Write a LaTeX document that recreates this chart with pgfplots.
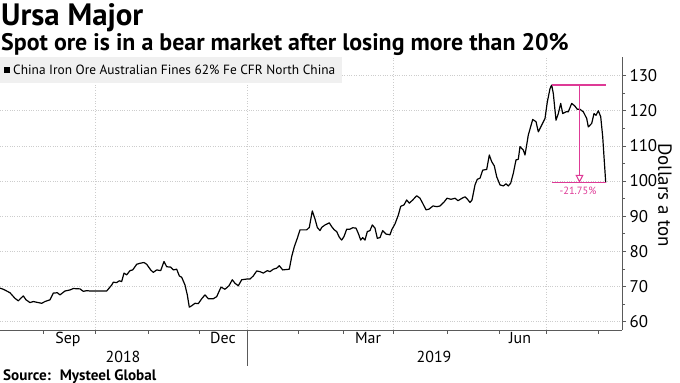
\documentclass[border=0pt]{standalone}
\usepackage{pgfplots}
\pgfplotsset{compat=1.18}
\usepackage{pgfplotstable}
\usepackage{fontspec}
\setmainfont{PT Sans}
\definecolor{mag}{RGB}{222,58,150}
\definecolor{gridc}{RGB}{205,205,205}
\definecolor{legbg}{RGB}{240,240,240}
\definecolor{axc}{RGB}{90,90,90}

% x = horizontal position (chart pixels; Sep 1 2018 = 43, Aug 1 2019 = 598), y = USD/ton
\pgfplotstableread{
x y
0 69.5
3.3 69.2
10 68.2
15 66.6
18.3 65.9
20.7 66.6
23.3 67.3
26 66.2
30 65.4
33.3 65.7
38.3 65.4
41.7 65.2
45 65.7
50 66.2
53.3 68.1
57.3 68.2
60 67.6
65 68.7
70 69.0
73.3 69.4
80 69.3
83.3 68.6
86.7 68.8
90 68.7
106.7 68.7
111.7 70.4
113.3 71.2
116.7 71.1
119.3 71.6
121.7 71.4
124 73.8
126.7 73.3
130 74.5
132.7 74.7
136.7 76.3
140 76.6
144 76.8
146.7 76.3
150.7 74.7
153.3 74.0
156.7 74.7
160.7 74.5
164 77.1
166.7 75.6
170.7 75.5
173.3 74.7
176.7 74.9
179.3 73.0
181.7 72.6
185 70.4
187.3 67.6
189.3 64.1
191.7 64.5
195 65.2
198.3 65.1
201.7 66.5
205 67.6
208.3 66.5
213.3 66.5
216.7 67.1
221 69.8
225 69.2
229 70.2
232.3 71.9
235 70.9
238.3 70.2
241.7 71.9
246.7 72.1
250 72.1
253.3 73.0
256.7 74.4
260 74.2
263.3 73.8
267.3 74.5
270 74.2
273.3 74.9
276.7 75.2
279.3 75.9
282.7 74.7
289.3 74.9
291.7 78.5
294.3 81.3
297.3 83.7
300 86.1
306.7 86.1
309.3 86.8
312.3 91.5
315 89.2
317.3 86.8
320 85.9
321.7 86.8
325 87.5
329.3 88.1
331.7 87.0
334.3 86.1
336.7 85.6
339.3 84.0
341.7 83.2
344 84.2
346.7 86.3
350 86.3
352.7 86.7
356 86.6
358.3 85.1
360.7 83.2
362.7 83.9
365 83.2
367.3 85.6
370 85.9
372.3 87.5
375 86.6
377.3 83.7
380 83.9
382.7 85.9
386 84.9
390 84.7
391.7 86.1
395 87.8
398.3 90.3
400.7 92.8
404 93.2
406.7 94.6
409.3 93.7
412.7 94.6
416.7 95.8
420 95.1
423 93.5
426 91.8
429 92.0
433 92.9
437 92.7
440 92.9
444 94.0
447 95.1
451 94.8
455 95.1
458 94.4
462 95.1
465 95.5
467.5 94.8
470 93.9
472 94.6
475 98.9
477.3 100.5
480 100.8
482.7 103.1
486.7 103.3
489.3 107.4
491.7 105.5
494.3 104.3
496.7 101.2
500 98.9
503.3 98.6
506 99.2
508.3 98.6
510.7 99.4
513.3 102.2
516 106.0
518.3 106.2
520 109.8
523.3 108.8
525 107.4
528.3 113.1
532.7 117.5
536 116.9
538.3 114.0
541.7 115.9
545 117.8
547.3 122.5
550 126.3
551.7 127.3
553.3 124.9
556 117.3
558.3 119.2
560.7 122.1
562.7 119.2
566 119.7
568.3 119.7
571.7 122.1
575 121.3
577.3 120.4
580 120.4
583.3 119.7
586.7 117.8
588.3 115.4
591.7 116.4
594 119.2
596 118.7
598.3 120.0
600.7 118.3
602.7 112.6
604 106.9
605.7 99.6
}\ore

\begin{document}
\begin{tikzpicture}[x=1bp,y=1bp]
\useasboundingbox (0bp,0bp) rectangle (680bp,383bp);
\begin{axis}[
  at={(0bp,53bp)}, anchor=south west,
  scale only axis, width=622bp, height=273bp,
  xmin=0, xmax=622, ymin=57.6, ymax=135.3,
  axis x line*=bottom, axis y line*=right,
  axis line style={draw=axc, line width=0.8pt, -},
  ytick={60,70,...,130}, minor ytick={65,75,...,125},
  yticklabel pos=right,
  tick align=outside,
  major tick length=4bp, minor tick length=3bp,
  tick style={draw=axc, line width=0.7pt},
  ymajorgrids, grid style={gridc, dotted, line width=0.7pt},
  xtick={43,95,148,199,247,298,343,393,447,499,546,598},
  xticklabels={},
  extra x ticks={68,223,368,520},
  extra x tick labels={Sep,Dec,Mar,Jun},
  extra x tick style={major tick length=0pt, grid=none},
  /pgf/number format/assume math mode=true,
  yticklabel style={font=\fontsize{17}{17}\selectfont, xshift=0bp},
  xticklabel style={font=\fontsize{16}{16}\selectfont, yshift=1bp},
  clip=false,
]
\draw[gridc, dotted, line width=0.7pt] (axis cs:95,57.6) -- (axis cs:95,135.3);
\draw[gridc, dotted, line width=0.7pt] (axis cs:247,57.6) -- (axis cs:247,135.3);
\draw[gridc, dotted, line width=0.7pt] (axis cs:393,57.6) -- (axis cs:393,135.3);
\draw[gridc, dotted, line width=0.7pt] (axis cs:546,57.6) -- (axis cs:546,135.3);
\addplot[black, line width=1.2pt, no markers, line join=round] table[x=x, y=y] {\ore};
\draw[draw=mag, line width=1.4pt] (axis cs:551.7,127.3) -- (axis cs:606,127.3);
\draw[draw=mag, line width=1.4pt] (axis cs:551.7,99.6) -- (axis cs:606,99.6);
\draw[draw=mag, line width=1.6pt] (axis cs:579.5,127.3) -- (axis cs:579.5,101.6);
\draw[draw=mag, fill=white, line width=1.1pt, line join=miter] (axis cs:576.3,101.6) -- (axis cs:582.7,101.6) -- (axis cs:579.5,99.8) -- cycle;
\node[text=mag, font=\fontsize{10.5}{10.5}\selectfont, anchor=north] at (axis cs:578,99.2) {-21.75\%};
\end{axis}
% legend
\fill[legbg] (0bp,326bp) rectangle (342bp,300bp);
\fill[black] (4bp,310bp) rectangle (10bp,316bp);
\node[anchor=west, inner sep=0pt, font=\fontsize{13.4}{13.4}\selectfont] at (13bp,313bp) {China Iron Ore Australian Fines 62\% Fe CFR North China};
% y label
\node[rotate=-90, font=\fontsize{19}{19}\selectfont] at (665bp,188bp) {Dollars a ton};
% year separator and labels
\draw[axc, line width=0.7pt] (247bp,53bp) -- (247bp,17bp);
\node[font=\fontsize{16}{16}\selectfont] at (123bp,26bp) {2018};
\node[font=\fontsize{16}{16}\selectfont] at (434bp,26bp) {2019};
% titles
\node[anchor=base west, inner sep=0pt, font=\bfseries\fontsize{31}{31}\selectfont] at (1bp,357bp) {Ursa Major};
\node[anchor=base west, inner sep=0pt, font=\bfseries\fontsize{24}{24}\selectfont] at (1bp,332bp) {Spot ore is in a bear market after losing more than 20\%};
\node[anchor=base west, inner sep=0pt, font=\bfseries\fontsize{15.2}{15.2}\selectfont] at (3bp,3bp) {Source:~ Mysteel Global};
\end{tikzpicture}
\end{document}
